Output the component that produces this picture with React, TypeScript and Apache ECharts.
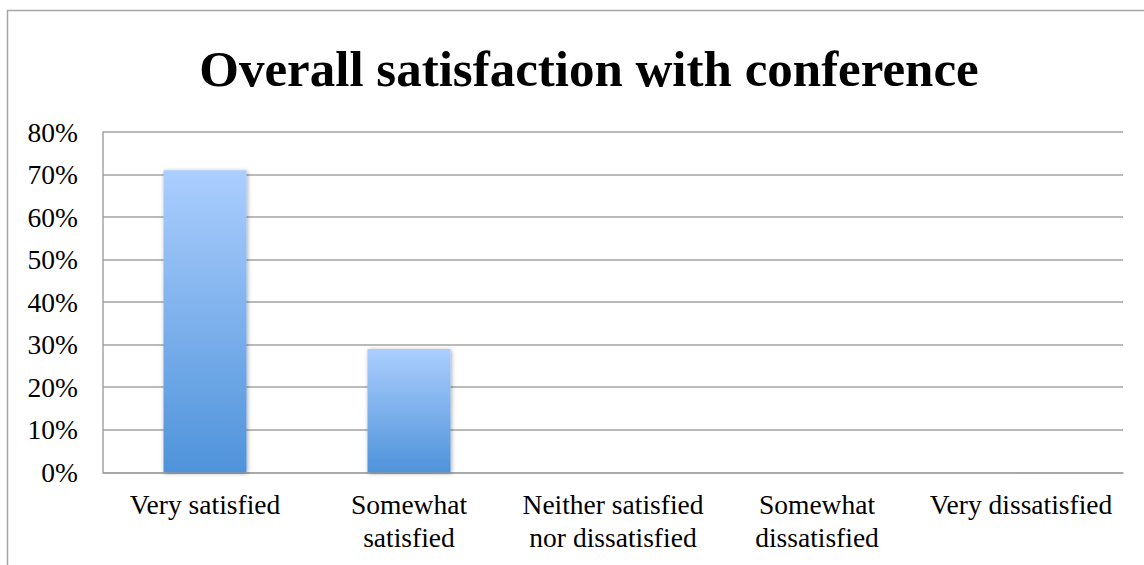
import React, { useEffect, useRef } from "react";
import * as echarts from "echarts";

const title = "Overall satisfaction with conference";
const categories = [
  "Very satisfied",
  "Somewhat\nsatisfied",
  "Neither satisfied\nnor dissatisfied",
  "Somewhat\ndissatisfied",
  "Very dissatisfied",
];
const values = [0.71, 0.29, 0, 0, 0];
const yMin = 0;
const yMax = 0.8;
const yInterval = 0.1;

const FONT = "'Liberation Serif', 'Times New Roman', serif";
const GRID_COLOR = "#a3a3a3";

export default function App() {
  const ref = useRef<HTMLDivElement>(null);
  useEffect(() => {
    if (!ref.current) return;
    const chart = echarts.init(ref.current, undefined, { renderer: "svg" });
    chart.setOption({
      animation: false,
      backgroundColor: "#ffffff",
      title: {
        text: title,
        left: 584,
        textAlign: "center",
        top: 38,
        textStyle: {
          fontFamily: FONT,
          fontWeight: "bold",
          fontSize: 51,
          color: "#000",
        },
      },
      graphic: [
        {
          type: "polyline",
          shape: { points: [[7.5, 565], [7.5, 10.5], [1144, 10.5]] },
          style: { stroke: "#a6a6a6", lineWidth: 1.5, fill: "none" },
          silent: true,
        },
      ],
      grid: { left: 103, right: 21, top: 132, bottom: 92.7, containLabel: false },
      xAxis: {
        type: "category",
        data: categories,
        axisLine: { show: true, lineStyle: { color: GRID_COLOR, width: 1.5 } },
        axisTick: { show: false },
        axisLabel: {
          interval: 0,
          margin: 16,
          fontFamily: FONT,
          fontSize: 27.5,
          lineHeight: 33,
          color: "#000",
          align: "center",
        },
      },
      yAxis: {
        type: "value",
        min: yMin,
        max: yMax,
        interval: yInterval,
        axisLine: { show: true, lineStyle: { color: GRID_COLOR, width: 1.5 } },
        axisTick: { show: false },
        splitLine: { show: true, lineStyle: { color: GRID_COLOR, width: 1.5 } },
        axisLabel: {
          margin: 25,
          fontFamily: FONT,
          fontSize: 27.5,
          color: "#000",
          padding: [4, 0, 0, 0],
          formatter: (v: number) => `${Math.round(v * 100)}%`,
        },
      },
      series: [
        {
          type: "bar",
          data: values,
          barWidth: "40.7%",
          itemStyle: {
            color: new echarts.graphic.LinearGradient(0, 0, 0, 1, [
              { offset: 0, color: "#abcefe" },
              { offset: 1, color: "#4f93da" },
            ]),
            shadowColor: "rgba(0,0,0,0.35)",
            shadowBlur: 4,
            shadowOffsetX: 1,
            shadowOffsetY: 1,
          },
        },
      ],
    });
    return () => chart.dispose();
  }, []);
  return (
    <div
      ref={ref}
      style={{ position: "fixed", left: 0, top: 0, width: 1144, height: 565 }}
    />
  );
}
